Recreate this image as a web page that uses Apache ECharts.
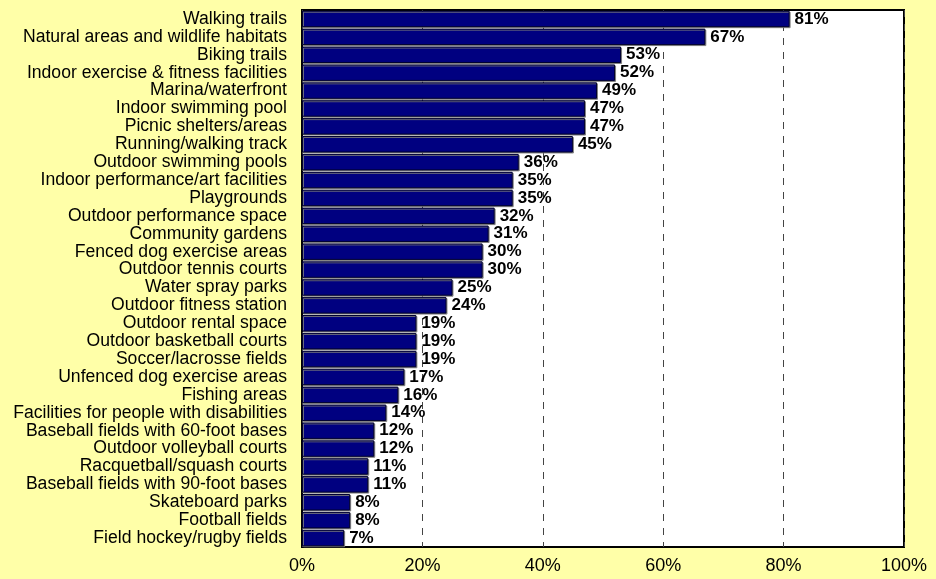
<!DOCTYPE html>
<html>
<head>
<meta charset="utf-8">
<script src="https://cdn.jsdelivr.net/npm/echarts@6/dist/echarts.min.js"></script>
<style>
  html, body { margin: 0; padding: 0; background: #FFFFA8; }
  #chart { width: 936px; height: 579px; }
</style>
</head>
<body>
<div id="chart"></div>
<script>
// Facility categories, listed top to bottom
const categories = [
  'Walking trails',
  'Natural areas and wildlife habitats',
  'Biking trails',
  'Indoor exercise & fitness facilities',
  'Marina/waterfront',
  'Indoor swimming pool',
  'Picnic shelters/areas',
  'Running/walking track',
  'Outdoor swimming pools',
  'Indoor performance/art facilities',
  'Playgrounds',
  'Outdoor performance space',
  'Community gardens',
  'Fenced dog exercise areas',
  'Outdoor tennis courts',
  'Water spray parks',
  'Outdoor fitness station',
  'Outdoor rental space',
  'Outdoor basketball courts',
  'Soccer/lacrosse fields',
  'Unfenced dog exercise areas',
  'Fishing areas',
  'Facilities for people with disabilities',
  'Baseball fields with 60-foot bases',
  'Outdoor volleyball courts',
  'Racquetball/squash courts',
  'Baseball fields with 90-foot bases',
  'Skateboard parks',
  'Football fields',
  'Field hockey/rugby fields'
];

// Percent of respondents for each facility
const percentValues = [81, 67, 53, 52, 49, 47, 47, 45, 36, 35, 35, 32, 31, 30, 30, 25, 24, 19, 19, 19, 17, 16, 14, 12, 12, 11, 11, 8, 8, 7];

// Value axis ticks
const tickValues = [0, 20, 40, 60, 80, 100];

const chart = echarts.init(document.getElementById('chart'), null, { renderer: 'canvas' });

chart.setOption({
  backgroundColor: '#FFFFA8',
  animation: false,
  textStyle: { fontFamily: 'Liberation Sans, Arial, sans-serif' },
  grid: {
    left: 302, right: 32, top: 10, bottom: 32,
    show: true,
    backgroundColor: '#FFFFFF',
    borderColor: '#000000',
    borderWidth: 2
  },
  xAxis: {
    type: 'value',
    min: tickValues[0],
    max: tickValues[tickValues.length - 1],
    interval: 20,
    axisLine: { show: false },
    axisTick: { show: false },
    axisLabel: {
      color: '#000',
      fontSize: 18,
      margin: 10,
      formatter: v => v + '%'
    },
    splitLine: {
      show: true,
      lineStyle: { color: '#444', type: [7, 7], width: 1 }
    }
  },
  yAxis: {
    type: 'category',
    data: categories,
    inverse: true,
    axisLine: { show: false },
    axisTick: { show: false },
    axisLabel: {
      color: '#000',
      fontSize: 17.6,
      margin: 15,
      interval: 0
    }
  },
  series: [{
    type: 'bar',
    data: percentValues,
    barCategoryGap: '8%',
    itemStyle: {
      color: '#000080',
      borderColor: '#000030',
      borderWidth: 1,
      shadowColor: 'rgba(120,120,120,0.9)',
      shadowOffsetX: 1,
      shadowOffsetY: 1,
      shadowBlur: 0
    },
    label: {
      show: true,
      position: 'right',
      distance: 5,
      color: '#000',
      fontWeight: 'bold',
      fontSize: 17,
      formatter: p => p.value + '%'
    }
  }]
});
</script>
</body>
</html>
